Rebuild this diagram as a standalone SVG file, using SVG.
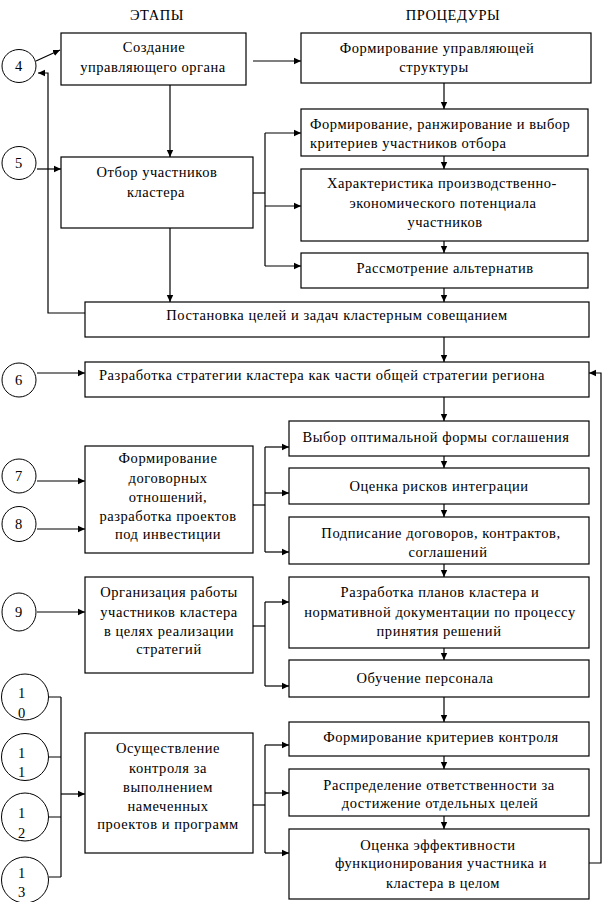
<svg xmlns="http://www.w3.org/2000/svg" width="614" height="902" viewBox="0 0 614 902">
<style>
rect.b{fill:#fff;stroke:#000;stroke-width:1.2}
ellipse.c{fill:#fff;stroke:#000;stroke-width:1}
text{font-family:'Liberation Serif','DejaVu Serif',serif;font-size:14.5px;fill:#000;letter-spacing:0.55px}
.m{text-anchor:middle}
#connectors path{fill:none;stroke:#000;stroke-width:1.2}
</style>
<defs>
<marker id="ah" markerWidth="8" markerHeight="8" refX="7" refY="4" orient="auto" markerUnits="userSpaceOnUse">
<path d="M0,0.8 L7,4 L0,7.2 Z" fill="#000"/>
</marker>
</defs>
<rect width="614" height="902" fill="#fff"/>
<text class="m" x="157" y="20">ЭТАПЫ</text>
<text class="m" x="453" y="20">ПРОЦЕДУРЫ</text>

<g id="connectors">
<path d="M36,61 L60,50" marker-end="url(#ah)"/>
<path d="M85,313 H48 V73 H38" marker-end="url(#ah)"/>
<path d="M37,169 H61" marker-end="url(#ah)"/>
<path d="M253,61 H301" marker-end="url(#ah)"/>
<path d="M170,85 V157" marker-end="url(#ah)"/>
<path d="M170,228 V302" marker-end="url(#ah)"/>
<path d="M253,193 H265"/>
<path d="M265,133 V266"/>
<path d="M265,133 H301" marker-end="url(#ah)"/>
<path d="M265,206 H301" marker-end="url(#ah)"/>
<path d="M265,266 H301" marker-end="url(#ah)"/>
<path d="M444,83 V109" marker-end="url(#ah)"/>
<path d="M444,156 V169" marker-end="url(#ah)"/>
<path d="M444,241 V253" marker-end="url(#ah)"/>
<path d="M444,288 V302" marker-end="url(#ah)"/>
<path d="M444,337 V362" marker-end="url(#ah)"/>
<path d="M37,373 H85" marker-end="url(#ah)"/>
<path d="M444,397 V421" marker-end="url(#ah)"/>
<path d="M444,456 V468" marker-end="url(#ah)"/>
<path d="M444,504 V517" marker-end="url(#ah)"/>
<path d="M37,481 H85" marker-end="url(#ah)"/>
<path d="M37,529 H85" marker-end="url(#ah)"/>
<path d="M253,505 H265"/>
<path d="M265,447 V552"/>
<path d="M265,447 H289" marker-end="url(#ah)"/>
<path d="M265,493 H289" marker-end="url(#ah)"/>
<path d="M265,552 H289" marker-end="url(#ah)"/>
<path d="M444,564 V577" marker-end="url(#ah)"/>
<path d="M37,612 H85" marker-end="url(#ah)"/>
<path d="M253,626 H265"/>
<path d="M265,602 V686"/>
<path d="M265,602 H289" marker-end="url(#ah)"/>
<path d="M265,686 H289" marker-end="url(#ah)"/>
<path d="M444,648 V660" marker-end="url(#ah)"/>
<path d="M444,697 V722" marker-end="url(#ah)"/>
<path d="M49,697 H61 M49,757 H61 M49,817 H61 M49,877 H61 M61,697 V877"/>
<path d="M61,794 H85" marker-end="url(#ah)"/>
<path d="M253,805 H265"/>
<path d="M265,745 V853"/>
<path d="M265,745 H289" marker-end="url(#ah)"/>
<path d="M265,793 H289" marker-end="url(#ah)"/>
<path d="M265,853 H289" marker-end="url(#ah)"/>
<path d="M444,756 V769" marker-end="url(#ah)"/>
<path d="M444,816 V829" marker-end="url(#ah)"/>
<path d="M589,863 H601 V373 H589" marker-end="url(#ah)"/>
</g>

<g id="c4"><ellipse class="c" cx="19" cy="66" rx="17" ry="16.5"/><text class="m" x="19" y="71">4</text></g>
<g id="c5"><ellipse class="c" cx="19" cy="163" rx="17" ry="16.5"/><text class="m" x="19" y="168">5</text></g>
<g id="c6"><ellipse class="c" cx="19" cy="380" rx="17" ry="17"/><text class="m" x="19" y="385">6</text></g>
<g id="c7"><ellipse class="c" cx="19" cy="476" rx="17" ry="17"/><text class="m" x="19" y="481">7</text></g>
<g id="c8"><ellipse class="c" cx="19" cy="524" rx="17" ry="17.5"/><text class="m" x="19" y="529">8</text></g>
<g id="c9"><ellipse class="c" cx="19" cy="612" rx="17" ry="19"/><text class="m" x="19" y="617">9</text></g>
<g id="c10"><ellipse class="c" cx="25" cy="697" rx="23.5" ry="23"/><text class="m" x="22" y="698">1<tspan x="22" y="718">0</tspan></text></g>
<g id="c11"><ellipse class="c" cx="25" cy="757" rx="23.5" ry="23.5"/><text class="m" x="22" y="758">1<tspan x="22" y="777">1</tspan></text></g>
<g id="c12"><ellipse class="c" cx="25" cy="817" rx="23.5" ry="24"/><text class="m" x="22" y="818">1<tspan x="22" y="838">2</tspan></text></g>
<g id="c13"><ellipse class="c" cx="25" cy="880" rx="23.5" ry="23"/><text class="m" x="22" y="878">1<tspan x="22" y="897">3</tspan></text></g>

<g id="n-create"><rect class="b" x="61" y="33" width="185" height="52"/><text class="m" x="154" y="52">Создание</text><text class="m" x="153" y="72">управляющего органа</text></g>
<g id="n-struct"><rect class="b" x="301" y="33" width="290" height="50"/><text class="m" x="437" y="53">Формирование управляющей</text><text class="m" x="434" y="72">структуры</text></g>
<g id="n-crit"><rect class="b" x="301" y="109" width="287" height="47"/><text x="310" y="129">Формирование, ранжирование и выбор</text><text x="310" y="148">критериев участников отбора</text></g>
<g id="n-select"><rect class="b" x="61" y="157" width="192" height="71"/><text class="m" x="157" y="177">Отбор участников</text><text class="m" x="156" y="197">кластера</text></g>
<g id="n-char"><rect class="b" x="301" y="169" width="287" height="72"/><text class="m" x="442" y="188">Характеристика производственно-</text><text class="m" x="443" y="208">экономического потенциала</text><text class="m" x="445" y="227">участников</text></g>
<g id="n-alt"><rect class="b" x="301" y="253" width="287" height="35"/><text class="m" x="445" y="273">Рассмотрение альтернатив</text></g>
<g id="n-goals"><rect class="b" x="85" y="302" width="504" height="35"/><text class="m" x="337" y="320">Постановка целей и задач кластерным совещанием</text></g>
<g id="n-strat"><rect class="b" x="85" y="362" width="504" height="35"/><text class="m" x="322" y="380">Разработка стратегии кластера как части общей стратегии региона</text></g>
<g id="n-form"><rect class="b" x="289" y="421" width="300" height="35"/><text class="m" x="436" y="442">Выбор оптимальной формы соглашения</text></g>
<g id="n-risk"><rect class="b" x="289" y="468" width="300" height="36"/><text class="m" x="439" y="491">Оценка рисков интеграции</text></g>
<g id="n-sign"><rect class="b" x="289" y="517" width="300" height="47"/><text class="m" x="441" y="538">Подписание договоров, контрактов,</text><text class="m" x="448" y="557">соглашений</text></g>
<g id="n-contract"><rect class="b" x="85" y="446" width="168" height="107"/><text class="m" x="168" y="463">Формирование</text><text class="m" x="168" y="483">договорных</text><text class="m" x="168" y="502">отношений,</text><text class="m" x="168" y="521">разработка проектов</text><text class="m" x="168" y="539">под инвестиции</text></g>
<g id="n-org"><rect class="b" x="85" y="577" width="168" height="96"/><text class="m" x="169" y="597">Организация работы</text><text class="m" x="169" y="617">участников кластера</text><text class="m" x="169" y="636">в целях реализации</text><text class="m" x="169" y="654">стратегий</text></g>
<g id="n-plans"><rect class="b" x="289" y="577" width="300" height="71"/><text class="m" x="440" y="597">Разработка планов кластера и</text><text class="m" x="440" y="617">нормативной документации по процессу</text><text class="m" x="439" y="636">принятия решений</text></g>
<g id="n-train"><rect class="b" x="289" y="660" width="300" height="37"/><text class="m" x="425" y="683">Обучение персонала</text></g>
<g id="n-control"><rect class="b" x="85" y="733" width="168" height="120"/><text class="m" x="168" y="753">Осуществление</text><text class="m" x="168" y="773">контроля за</text><text class="m" x="168" y="792">выполнением</text><text class="m" x="168" y="811">намеченных</text><text class="m" x="168" y="829">проектов и программ</text></g>
<g id="n-ccrit"><rect class="b" x="289" y="722" width="300" height="34"/><text class="m" x="441" y="742">Формирование критериев контроля</text></g>
<g id="n-resp"><rect class="b" x="289" y="769" width="300" height="47"/><text class="m" x="439" y="790">Распределение ответственности за</text><text class="m" x="440" y="808">достижение отдельных целей</text></g>
<g id="n-eval"><rect class="b" x="289" y="829" width="300" height="70"/><text class="m" x="438" y="850">Оценка эффективности</text><text class="m" x="441" y="868">функционирования участника и</text><text class="m" x="443" y="888">кластера в целом</text></g>
</svg>
